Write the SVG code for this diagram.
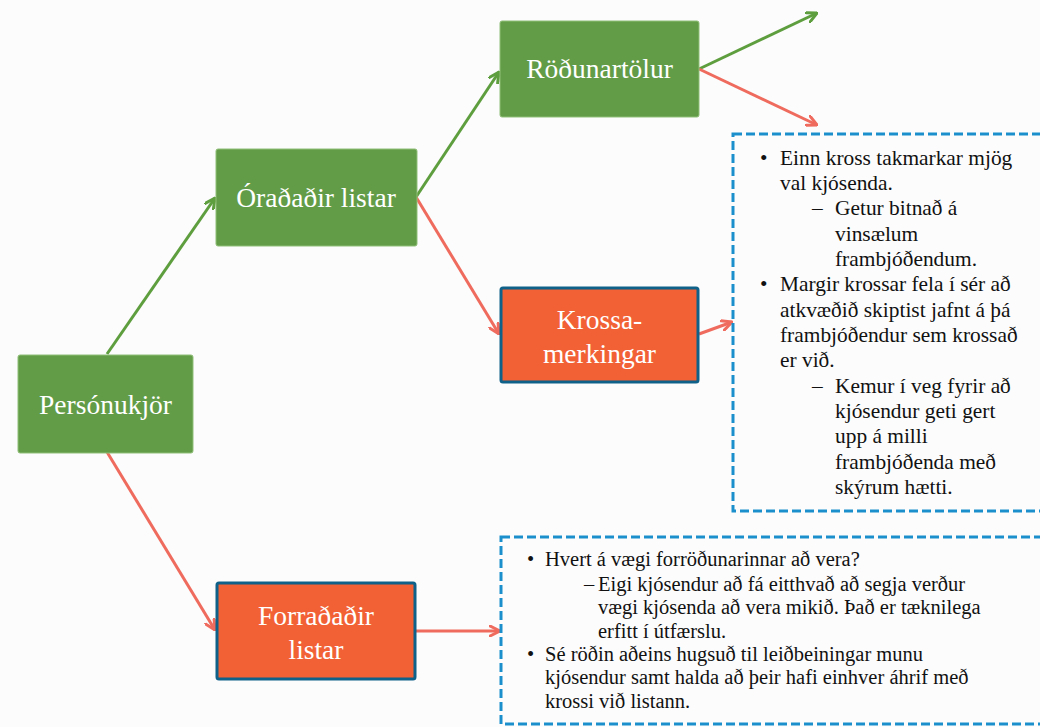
<svg xmlns="http://www.w3.org/2000/svg" width="1040" height="727" viewBox="0 0 1040 727">
<defs>
<style>
.g{fill:#629C47;stroke:#8fbf78;stroke-width:1}
.o{fill:#F26135;stroke:#0F6189;stroke-width:3}
.cg{stroke:#5E9E3F;stroke-width:3;fill:none}
.cr{stroke:#EF6B5D;stroke-width:3;fill:none}
.dash{fill:none;stroke:#1A8FCB;stroke-width:3;stroke-dasharray:9 4}
</style>
<marker id="ag" viewBox="0 0 12 12" refX="11" refY="6" markerWidth="12" markerHeight="12" markerUnits="userSpaceOnUse" orient="auto">
<path d="M1,1 L11,6 L1,11" fill="none" stroke="#5E9E3F" stroke-width="3" stroke-linecap="round" stroke-linejoin="round"/>
</marker>
<marker id="ar" viewBox="0 0 12 12" refX="11" refY="6" markerWidth="12" markerHeight="12" markerUnits="userSpaceOnUse" orient="auto">
<path d="M1,1 L11,6 L1,11" fill="none" stroke="#EF6B5D" stroke-width="3" stroke-linecap="round" stroke-linejoin="round"/>
</marker>
</defs>
<rect x="0" y="0" width="1040" height="727" fill="#FCFCFC"/>
<g id="connectors">
<line class="cg" x1="107" y1="354" x2="215" y2="198" marker-end="url(#ag)"/>
<line class="cr" x1="107" y1="452" x2="215" y2="630" marker-end="url(#ar)"/>
<line class="cg" x1="416" y1="197" x2="499" y2="72" marker-end="url(#ag)"/>
<line class="cr" x1="416" y1="197" x2="499" y2="334" marker-end="url(#ar)"/>
<line class="cg" x1="699" y1="69" x2="817" y2="13" marker-end="url(#ag)"/>
<line class="cr" x1="699" y1="69" x2="817" y2="125" marker-end="url(#ar)"/>
<line class="cr" x1="699" y1="334" x2="732" y2="322" marker-end="url(#ar)"/>
<line class="cr" x1="416" y1="631" x2="500" y2="631" marker-end="url(#ar)"/>
</g>
<g id="personukjor">
<rect class="g" x="18" y="355" width="175" height="98" rx="2"/>
<text x="105.5" y="414" style="font-family:'Liberation Serif',serif;font-size:27.5px;fill:#ffffff" text-anchor="middle">Persónukjör</text>
</g>
<g id="oradadir">
<rect class="g" x="216" y="149" width="201" height="97" rx="2"/>
<text x="316" y="207" style="font-family:'Liberation Serif',serif;font-size:27.5px;fill:#ffffff" text-anchor="middle">Óraðaðir listar</text>
</g>
<g id="rodunartolur">
<rect class="g" x="500" y="21" width="199" height="96" rx="2"/>
<text x="599.5" y="78" style="font-family:'Liberation Serif',serif;font-size:27.5px;fill:#ffffff" text-anchor="middle">Röðunartölur</text>
</g>
<g id="krossamerkingar">
<rect class="o" x="501" y="288" width="197" height="94" rx="2"/>
<text x="599.5" y="329" style="font-family:'Liberation Serif',serif;font-size:27.5px;fill:#ffffff" text-anchor="middle">Krossa-</text>
<text x="599.5" y="363" style="font-family:'Liberation Serif',serif;font-size:27.5px;fill:#ffffff" text-anchor="middle">merkingar</text>
</g>
<g id="forradadir">
<rect class="o" x="217" y="583" width="198" height="96" rx="2"/>
<text x="316" y="625" style="font-family:'Liberation Serif',serif;font-size:27.5px;fill:#ffffff" text-anchor="middle">Forraðaðir</text>
<text x="316" y="659" style="font-family:'Liberation Serif',serif;font-size:27.5px;fill:#ffffff" text-anchor="middle">listar</text>
</g>
<g id="note1">
<rect class="dash" x="733" y="134" width="320" height="377"/>
<text style="font-family:'Liberation Serif',serif;font-size:21.4px;fill:#111111">
<tspan x="760" y="165">•</tspan>
<tspan x="780" y="165">Einn kross takmarkar mjög</tspan>
<tspan x="780" y="190">val kjósenda.</tspan>
<tspan x="812" y="215">–</tspan>
<tspan x="835" y="215">Getur bitnað á</tspan>
<tspan x="835" y="241">vinsælum</tspan>
<tspan x="835" y="266">frambjóðendum.</tspan>
<tspan x="760" y="291">•</tspan>
<tspan x="780" y="291">Margir krossar fela í sér að</tspan>
<tspan x="780" y="317">atkvæðið skiptist jafnt á þá</tspan>
<tspan x="780" y="342">frambjóðendur sem krossað</tspan>
<tspan x="780" y="367">er við.</tspan>
<tspan x="812" y="393">–</tspan>
<tspan x="835" y="393">Kemur í veg fyrir að</tspan>
<tspan x="835" y="418">kjósendur geti gert</tspan>
<tspan x="835" y="443">upp á milli</tspan>
<tspan x="835" y="469">frambjóðenda með</tspan>
<tspan x="835" y="494">skýrum hætti.</tspan>
</text>
</g>
<g id="note2">
<rect class="dash" x="501" y="537" width="550" height="187"/>
<text style="font-family:'Liberation Serif',serif;font-size:20.5px;fill:#111111">
<tspan x="527" y="566">•</tspan>
<tspan x="545" y="566">Hvert á vægi forröðunarinnar að vera?</tspan>
<tspan x="584" y="591">–</tspan>
<tspan x="598" y="591">Eigi kjósendur að fá eitthvað að segja verður</tspan>
<tspan x="598" y="614">vægi kjósenda að vera mikið. Það er tæknilega</tspan>
<tspan x="598" y="638">erfitt í útfærslu.</tspan>
<tspan x="527" y="661">•</tspan>
<tspan x="545" y="661">Sé röðin aðeins hugsuð til leiðbeiningar munu</tspan>
<tspan x="545" y="684">kjósendur samt halda að þeir hafi einhver áhrif með</tspan>
<tspan x="545" y="708">krossi við listann.</tspan>
</text>
</g>
</svg>
